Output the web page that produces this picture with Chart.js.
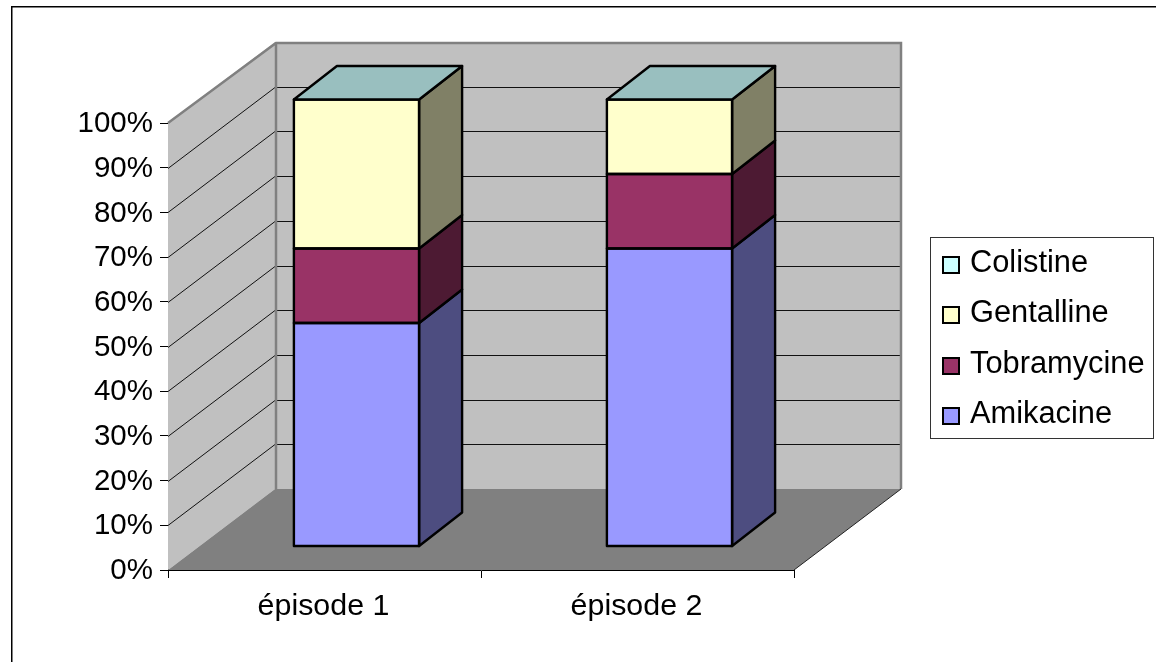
<!DOCTYPE html>
<html>
<head>
<meta charset="utf-8">
<title>Aminosides par épisode</title>
<script src="https://cdn.jsdelivr.net/npm/chart.js@4"></script>
<style>
  html, body { margin: 0; padding: 0; background: #fff; }
  canvas { display: block; }
</style>
</head>
<body>
<canvas id="chart" width="1156" height="662"></canvas>
<script>
var categories = ['épisode 1', 'épisode 2'];
var amikacine = [50, 66.67];
var tobramycine = [16.67, 16.67];
var gentalline = [33.33, 16.66];
var colistine = [0, 0];

var FONT = '"Liberation Sans", Arial, sans-serif';
var WALL = '#C0C0C0';
var FLOOR = '#808080';

// 3D projection: full depth of the box, and where a bar sits inside it
var DEPTH = { x: 107, y: 81 };
var BAR_OFFSET = { x: 32, y: 23.5 };
var BAR_DEPTH = { x: 43, y: 33.5 };

function shade(hex, k) {
    var n = parseInt(hex.slice(1), 16);
    var r = Math.round((n >> 16 & 255) * k);
    var g = Math.round((n >> 8 & 255) * k);
    var b = Math.round((n & 255) * k);
    return 'rgb(' + r + ',' + g + ',' + b + ')';
}

function poly(ctx, pts, fill, stroke, width) {
    ctx.beginPath();
    ctx.moveTo(pts[0][0], pts[0][1]);
    for (var i = 1; i < pts.length; i++) ctx.lineTo(pts[i][0], pts[i][1]);
    ctx.closePath();
    if (fill) { ctx.fillStyle = fill; ctx.fill(); }
    if (stroke) { ctx.strokeStyle = stroke; ctx.lineWidth = width; ctx.stroke(); }
}

var box3d = {
    id: 'box3d',

    // slide the bars back into the box
    afterDatasetsUpdate: function (chart) {
        chart.data.datasets.forEach(function (ds, i) {
            chart.getDatasetMeta(i).data.forEach(function (bar) {
                bar.x += BAR_OFFSET.x;
                bar.y -= BAR_OFFSET.y;
                bar.base -= BAR_OFFSET.y;
            });
        });
    },

    beforeDatasetsDraw: function (chart) {
        var ctx = chart.ctx, a = chart.chartArea, y = chart.scales.y;
        var l = a.left, r = a.right, t = a.top, b = a.bottom;
        var dx = DEPTH.x, dy = DEPTH.y;

        ctx.save();
        poly(ctx, [[l, t], [l + dx, t - dy], [l + dx, b - dy], [l, b]], WALL);
        poly(ctx, [[l + dx, t - dy], [r + dx, t - dy], [r + dx, b - dy], [l + dx, b - dy]], WALL);
        poly(ctx, [[l, b], [l + dx, b - dy], [r + dx, b - dy], [r, b]], FLOOR);

        // gridlines run up the side wall then across the back
        ctx.strokeStyle = '#111';
        ctx.lineWidth = 1;
        y.ticks.forEach(function (tick) {
            if (tick.value === y.min || tick.value === y.max) return;
            var py = Math.round(y.getPixelForValue(tick.value)) + 0.5;
            ctx.beginPath();
            ctx.moveTo(l, py);
            ctx.lineTo(l + dx, py - dy);
            ctx.lineTo(r + dx, py - dy);
            ctx.stroke();
        });

        // wall edges
        ctx.strokeStyle = FLOOR;
        ctx.lineWidth = 2.5;
        ctx.beginPath();
        ctx.moveTo(l, t);
        ctx.lineTo(l + dx + 1, t - dy + 1);
        ctx.lineTo(r + dx, t - dy + 1);
        ctx.lineTo(r + dx, b - dy);
        ctx.moveTo(l + dx + 1, t - dy + 1);
        ctx.lineTo(l + dx + 1, b - dy);
        ctx.stroke();

        ctx.strokeStyle = '#222';
        ctx.lineWidth = 1;
        ctx.beginPath();
        ctx.moveTo(r, b);
        ctx.lineTo(r + dx, b - dy);
        ctx.stroke();
        ctx.restore();
    },

    afterDatasetsDraw: function (chart) {
        var ctx = chart.ctx;
        var last = chart.data.datasets.length - 1;
        ctx.save();
        ctx.lineJoin = 'round';
        chart.data.datasets.forEach(function (ds, i) {
            chart.getDatasetMeta(i).data.forEach(function (bar) {
                var left = bar.x - bar.width / 2, right = bar.x + bar.width / 2;
                var top = Math.min(bar.y, bar.base), bottom = Math.max(bar.y, bar.base);
                var dx = BAR_DEPTH.x, dy = BAR_DEPTH.y;
                if (bottom - top > 0.5) {
                    poly(ctx, [[right, top], [right + dx, top - dy], [right + dx, bottom - dy], [right, bottom]],
                        shade(ds.backgroundColor, 0.5), '#000', 2.4);
                    poly(ctx, [[left, top], [right, top], [right, bottom], [left, bottom]], null, '#000', 2.4);
                }
                if (i === last) {
                    poly(ctx, [[left, top], [left + dx, top - dy], [right + dx, top - dy], [right, top]],
                        shade(ds.backgroundColor, 0.75), '#000', 2.4);
                }
            });
        });
        ctx.restore();
    },

    afterDraw: function (chart) {
        var ctx = chart.ctx;
        ctx.save();

        // chart frame, open on the right and at the bottom
        ctx.strokeStyle = '#000';
        ctx.lineWidth = 1.5;
        ctx.beginPath();
        ctx.moveTo(11.75, 662);
        ctx.lineTo(11.75, 6.75);
        ctx.lineTo(1156, 6.75);
        ctx.stroke();

        // legend, top of the stack first
        ctx.strokeStyle = '#333';
        ctx.lineWidth = 1;
        ctx.strokeRect(930.5, 237.5, 223, 201);
        ctx.font = '30.8px ' + FONT;
        ctx.textBaseline = 'alphabetic';
        ctx.textAlign = 'left';
        chart.data.datasets.slice().reverse().forEach(function (ds, i) {
            var top = Math.round(257 + i * 50.3);
            ctx.fillStyle = ds.backgroundColor;
            ctx.fillRect(943, top, 16, 16);
            ctx.strokeStyle = '#000';
            ctx.lineWidth = 2;
            ctx.strokeRect(943, top, 16, 16);
            ctx.fillStyle = '#000';
            ctx.fillText(ds.label, 970, top + 15);
        });
        ctx.restore();
    }
};

function series(label, values, color) {
    return { label: label, data: values, backgroundColor: color, borderWidth: 0, clip: false };
}

new Chart(document.getElementById('chart').getContext('2d'), {
    type: 'bar',
    data: {
        labels: categories,
        datasets: [
            series('Amikacine', amikacine, '#9999FF'),
            series('Tobramycine', tobramycine, '#993366'),
            series('Gentalline', gentalline, '#FFFFCC'),
            series('Colistine', colistine, '#CCFFFF')
        ]
    },
    options: {
        responsive: false,
        animation: false,
        layout: { padding: { left: 0, right: 362, top: 123, bottom: 0 } },
        datasets: { bar: { categoryPercentage: 1, barPercentage: 0.4 } },
        plugins: {
            legend: { display: false },
            tooltip: { enabled: false }
        },
        scales: {
            x: {
                stacked: true,
                afterFit: function (scale) { scale.height = 92; },
                border: { color: '#000', width: 1 },
                grid: { drawOnChartArea: false, drawTicks: true, tickLength: 8, tickColor: '#000' },
                ticks: { color: '#000', font: { family: FONT, size: 30.4 }, padding: 10, labelOffset: -1, maxRotation: 0 }
            },
            y: {
                stacked: true,
                min: 0,
                max: 100,
                afterFit: function (scale) { scale.width = 168; },
                border: { color: '#000', width: 1 },
                grid: { drawOnChartArea: false, drawTicks: true, tickLength: 8, tickColor: '#000' },
                ticks: {
                    stepSize: 10,
                    color: '#000',
                    font: { family: FONT, size: 29.5 },
                    padding: 7,
                    labelOffset: 1,
                    callback: function (v) { return v + '%'; }
                }
            }
        }
    },
    plugins: [box3d]
});
</script>
</body>
</html>
